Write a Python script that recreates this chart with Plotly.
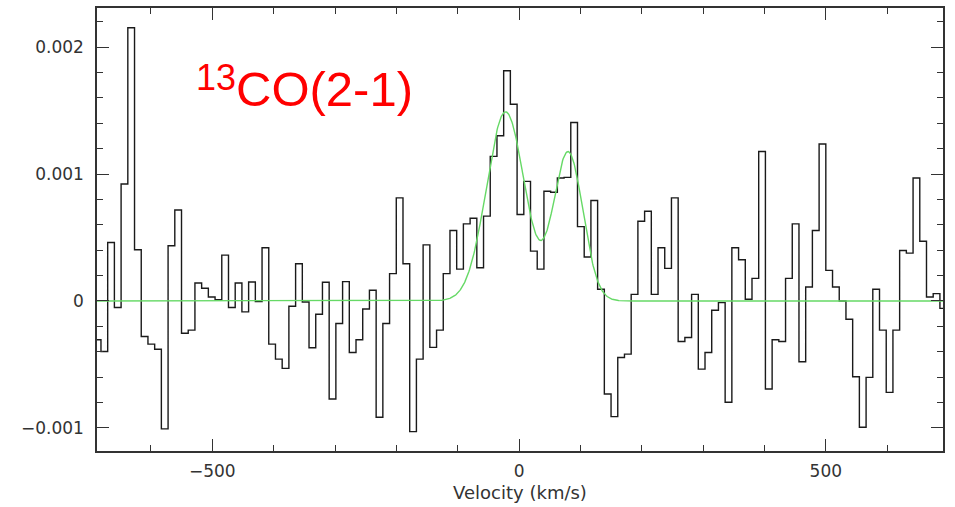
import numpy as np
import plotly.graph_objects as go

# --- channel grid (km/s) ---
FIRST_CHANNEL = -687.0
CHANNEL_WIDTH = 10.94

# --- observed spectrum (flux per channel) ---
flux = [
    -0.000306, -0.000398, 0.000461, -0.000052, 0.000921, 0.002152, 0.000403, -0.000280,
    -0.000340, -0.000380, -0.001008, 0.000435, 0.000717, -0.000254, -0.000230, 0.000141,
    0.000100, 0.000031, 0.000010, 0.000361, -0.000052, 0.000141, -0.000086, 0.000149,
    -0.000005, 0.000419, -0.000340, -0.000458, -0.000531, -0.000042, 0.000293, -0.000008,
    -0.000369, -0.000105, 0.000147, -0.000772, -0.000178, 0.000152, -0.000406, -0.000306,
    -0.000063, 0.000084, -0.000916, -0.000178, 0.000215, 0.000812, 0.000293, -0.001029,
    -0.000458, 0.000442, -0.000366, -0.000230, 0.000215, 0.000555, 0.000251, 0.000607,
    0.000652, 0.000262, 0.000668, 0.001139, 0.001301, 0.001814, 0.001550, 0.000681,
    0.000942, 0.000393, 0.000251, 0.000864, 0.000856, 0.000969, 0.000974, 0.001406,
    0.000586, 0.000346, 0.000791, 0.000092, -0.000733, -0.000911, -0.000445, -0.000419,
    0.000052, 0.000628, 0.000707, 0.000052, 0.000419, 0.000257, 0.000812, -0.000319,
    -0.000288, 0.000052, -0.000537, -0.000406, -0.000073, -0.000013, -0.000798, 0.000419,
    0.000325, 0.000013, 0.000178, 0.001178, -0.000694, -0.000306, -0.000319, 0.000178,
    0.000607, -0.000479, 0.000110, 0.000555, 0.001236, 0.000241, 0.000110, 0.000000,
    -0.000144, -0.000597, -0.000995, -0.000602, 0.000092, -0.000230, -0.000720, -0.000230,
    0.000398, 0.000377, 0.000969, 0.000471, 0.000031, 0.000058, -0.000058,
]

# --- two-component Gaussian fit parameters ---
fit_amp = [0.00149, 0.00117]
fit_center = [-22.0, 80.0]
fit_sigma = [31.0, 24.0]

# --- axes ---
x_range = [-688, 691]
y_range = [-0.001182, 0.002308]
x_tickvals = [-500, 0, 500]
x_ticktext = ["\u2212500", "0", "500"]
y_tickvals = [-0.001, 0, 0.001, 0.002]
y_ticktext = ["\u22120.001", "0", "0.001", "0.002"]

label_iso = "13"
label_mol = "CO(2-1)"

# build
n = len(flux)
centers = FIRST_CHANNEL + CHANNEL_WIDTH * np.arange(n)
edges = np.append(centers - CHANNEL_WIDTH / 2, centers[-1] + CHANNEL_WIDTH / 2)
yvals = np.append(np.array(flux), flux[-1])

vfit = np.linspace(x_range[0], x_range[1], 1500)
yfit = np.zeros_like(vfit)
for a, c, s in zip(fit_amp, fit_center, fit_sigma):
    yfit += a * np.exp(-0.5 * ((vfit - c) / s) ** 2)

fig = go.Figure()
fig.add_trace(go.Scatter(x=edges, y=yvals, mode="lines", line=dict(shape="hv", color="#1a1a1a", width=1.4),
                         hoverinfo="skip", showlegend=False))
fig.add_trace(go.Scatter(x=vfit, y=yfit, mode="lines", line=dict(color="#66d966", width=1.4),
                         hoverinfo="skip", showlegend=False))

axis_common = dict(showline=True, linecolor="#333333", linewidth=1.5, mirror="allticks",
                   ticks="inside", tickcolor="#333333", tickwidth=1.2, ticklen=12,
                   showgrid=False, zeroline=False,
                   tickfont=dict(family="DejaVu Sans", size=17, color="#333333"))

fig.update_xaxes(range=x_range, tickvals=x_tickvals, ticktext=x_ticktext,
                 minor=dict(dtick=100, tick0=0, ticks="inside", ticklen=6, tickcolor="#333333", tickwidth=1.2),
                 title=dict(text="Velocity (km/s)", font=dict(family="DejaVu Sans", size=18, color="#333333"), standoff=6),
                 ticklabelstandoff=4, **axis_common)
fig.update_yaxes(range=y_range, tickvals=y_tickvals, ticktext=y_ticktext,
                 minor=dict(dtick=0.0002, tick0=0, ticks="inside", ticklen=6, tickcolor="#333333", tickwidth=1.2),
                 ticklabelstandoff=8, **axis_common)

fig.add_annotation(text=label_iso, xref="paper", yref="paper", x=0.1145, y=0.843, xanchor="left", yanchor="middle",
                   showarrow=False, font=dict(family="Liberation Sans", size=36, color="#ff0000"))
fig.add_annotation(text=label_mol, xref="paper", yref="paper", x=0.1625, y=0.818, xanchor="left", yanchor="middle",
                   showarrow=False, font=dict(family="Liberation Sans", size=49, color="#ff0000"))

fig.update_layout(width=955, height=507, margin=dict(l=97, r=12, t=6, b=56),
                  paper_bgcolor="white", plot_bgcolor="white")

fig.write_html("out.html")
